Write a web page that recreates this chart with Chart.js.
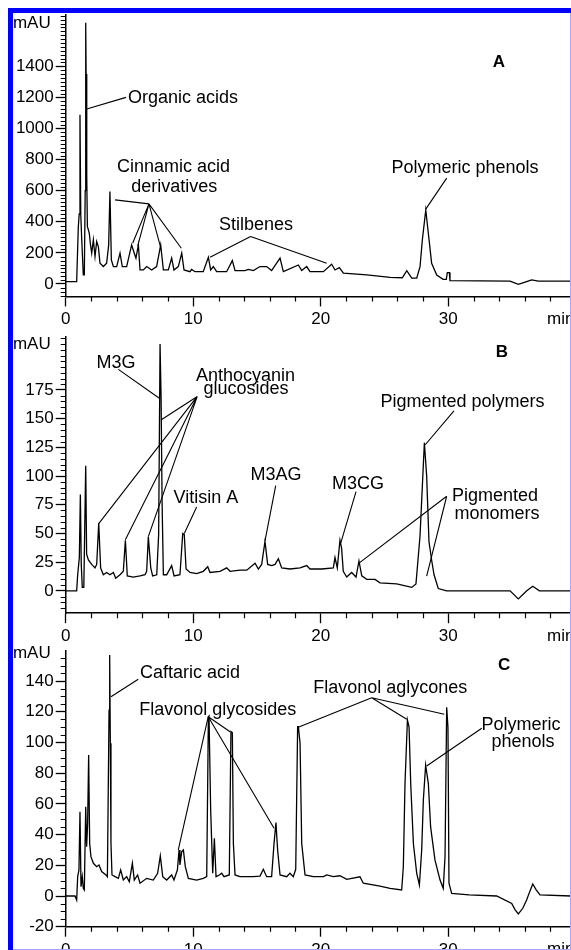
<!DOCTYPE html>
<html>
<head>
<meta charset="utf-8">
<script src="https://cdn.jsdelivr.net/npm/chart.js@4/dist/chart.umd.min.js"></script>
<style>
  html, body { margin: 0; padding: 0; background: #fff; overflow: hidden; }
  body { width: 571px; height: 950px; position: relative; }
  canvas { position: absolute; left: 0; }
  .frame { position: absolute; }
</style>
</head>
<body>
<canvas id="chartA" width="571" height="330" style="top:0"></canvas>
<canvas id="chartB" width="571" height="320" style="top:325px"></canvas>
<canvas id="chartC" width="571" height="324" style="top:636px"></canvas>
<div class="frame" style="left:8px;top:8px;width:563px;height:5px;background:#0000ff"></div>
<div class="frame" style="left:8px;top:8px;width:5px;height:942px;background:#0000ff"></div>
<div class="frame" style="left:570px;top:13px;width:1px;height:937px;background:#a8a8ff"></div>
<div class="frame" style="left:13px;top:949px;width:558px;height:1px;background:#a8a8ff"></div>
<script>
// retention time (min) and absorbance (mAU)
const timeA = [0, 0.86, 0.99, 1.06, 1.12, 1.18, 1.25, 1.38, 1.46, 1.53, 1.57, 1.6, 1.65, 1.7, 1.78, 1.85, 1.95, 2.04, 2.17, 2.3, 2.43, 2.56, 2.69, 2.95, 3.21, 3.37, 3.47, 3.58, 3.74, 4.0, 4.26, 4.44, 4.78, 5.17, 5.38, 5.51, 5.7, 5.83, 6.09, 6.35, 6.74, 7.13, 7.45, 7.66, 8.05, 8.31, 8.49, 8.83, 9.1, 9.28, 9.75, 9.88, 10.14, 10.79, 11.19, 11.37, 11.58, 11.84, 12.62, 13.07, 13.28, 14.06, 14.32, 14.72, 15.24, 15.76, 16.15, 16.81, 17.07, 18.25, 18.51, 18.9, 19.16, 20.21, 20.86, 21.12, 21.46, 21.78, 23.61, 25.44, 26.4, 26.75, 27.14, 27.53, 27.79, 27.97, 28.24, 28.5, 28.7, 29.1, 29.6, 29.85, 29.93, 30.09, 30.14, 34.85, 35.5, 36.15, 36.55, 37.07, 39.63];
const signalA = [15, 15, 369, 450, 1089, 450, 300, 58, 58, 600, 1680, 1350, 700, 369, 348, 326, 250, 198, 284, 176, 273, 240, 133, 112, 133, 250, 595, 155, 112, 112, 198, 112, 112, 251, 198, 166, 251, 90, 90, 112, 90, 112, 251, 90, 90, 166, 90, 112, 198, 90, 79, 94, 79, 79, 172, 90, 112, 79, 79, 150, 86, 86, 94, 86, 112, 112, 86, 166, 79, 122, 86, 112, 79, 79, 127, 90, 105, 69, 58, 43, 40, 86, 37, 37, 111, 283, 476, 283, 133, 58, 30, 30, 73, 73, 21, 18, -3, 15, 26, 18, 18];

const timeB = [0, 0.86, 0.94, 1.07, 1.15, 1.22, 1.3, 1.42, 1.57, 1.64, 1.78, 2.04, 2.3, 2.43, 2.59, 2.74, 2.95, 3.21, 3.47, 3.74, 3.92, 4.26, 4.52, 4.68, 4.83, 5.3, 5.83, 6.22, 6.35, 6.48, 6.67, 6.82, 7.14, 7.29, 7.4, 7.48, 7.56, 7.66, 7.92, 8.31, 8.5, 8.96, 9.18, 9.3, 9.44, 9.75, 10.27, 10.79, 11.14, 11.32, 12.1, 12.63, 12.89, 13.67, 14.2, 14.85, 15.11, 15.37, 15.63, 15.84, 16.16, 16.42, 16.68, 16.94, 17.59, 18.38, 18.9, 19.16, 20.08, 20.99, 21.12, 21.3, 21.51, 21.64, 21.77, 22.04, 22.43, 22.77, 23.0, 23.22, 23.61, 24.26, 24.65, 25.96, 27.14, 27.47, 27.79, 28.13, 28.31, 28.49, 28.71, 28.89, 29.22, 29.88, 32.49, 34.85, 35.5, 36.16, 36.63, 37.15, 39.63];
const signalB = [0, 0, 14, 29, 84, 23, 3, 3, 109, 32, 27, 23, 20, 23, 59, 20, 14, 16, 14, 16, 11, 14, 17, 44, 13, 12, 13, 14, 17, 47, 20, 13, 14, 49, 215, 169, 77, 14, 14, 22, 13, 14, 50, 49, 19, 16, 15, 17, 21, 16, 17, 20, 17, 18, 18, 24, 19, 23, 43, 23, 22, 23, 28, 20, 19, 20, 22, 19, 19, 20, 29, 20, 44, 37, 17, 12, 16, 12, 26, 13, 10, 10, 7, 6, 3, 6, 48, 129, 100, 43, 26, 14, 2, 0, 0, 0, -7, 0, 4, 0, 0];

const timeC = [0, 0.73, 0.86, 0.94, 1.04, 1.12, 1.2, 1.3, 1.38, 1.46, 1.57, 1.64, 1.72, 1.8, 1.88, 1.98, 2.17, 2.43, 2.61, 2.82, 3.16, 3.27, 3.4, 3.45, 3.5, 3.55, 3.63, 3.87, 4.13, 4.31, 4.52, 4.78, 4.99, 5.23, 5.38, 5.64, 5.83, 6.35, 6.87, 7.21, 7.42, 7.61, 7.92, 8.31, 8.49, 8.76, 8.89, 8.96, 9.1, 9.23, 9.38, 9.62, 10.27, 10.79, 11.06, 11.19, 11.24, 11.37, 11.53, 11.66, 11.79, 12.05, 12.23, 12.42, 12.83, 12.96, 13.07, 13.15, 13.28, 13.67, 14.72, 15.24, 15.5, 15.76, 16.15, 16.34, 16.49, 16.62, 16.81, 17.33, 17.59, 17.85, 18.04, 18.19, 18.25, 18.38, 18.51, 18.77, 19.42, 20.21, 20.47, 20.99, 21.51, 22.04, 23.08, 23.34, 24.65, 25.44, 26.35, 26.48, 26.61, 26.8, 26.93, 27.06, 27.27, 27.53, 27.74, 27.92, 28.05, 28.23, 28.44, 28.62, 28.96, 29.36, 29.61, 29.75, 29.88, 29.98, 30.06, 30.27, 31.64, 33.8, 34.98, 35.25, 35.5, 35.85, 36.15, 36.4, 36.63, 36.9, 37.2, 39.63];
const signalC = [0, 0, -2.6, 12.6, 16.9, 54.9, 6.1, 12.6, 5, 3.9, 58.2, 32.1, 47.3, 91.9, 34.3, 25.6, 21.3, 19.1, 20.2, 15.9, 13.7, 12.6, 121, 157, 99.5, 34.3, 13.7, 12.6, 11.5, 16.9, 10.4, 12.6, 9.3, 21.3, 10.4, 13.7, 8.3, 11.5, 10.4, 14.8, 26.1, 12.6, 10.4, 13.7, 10.4, 16.9, 30, 20.2, 28.9, 30, 19.1, 11.5, 10.4, 11.5, 12.6, 116.8, 117.3, 56, 14.8, 37.6, 12.6, 13.7, 14.8, 12.6, 13.7, 107.1, 106.4, 34.3, 13.7, 12.6, 12.6, 13, 17.4, 12.6, 12.6, 34.3, 47.8, 30, 13.7, 12.6, 14.8, 12.6, 17.4, 110.3, 110.3, 99.5, 34.3, 13.7, 12.6, 12.6, 13.7, 12.6, 13.2, 10.8, 12.5, 8.3, 6.5, 5, 3.9, 19, 73, 114.7, 110, 73, 34, 14.8, 7.2, 30, 62.5, 85.3, 73.4, 45, 23.5, 10.4, 5, 25.6, 123, 110, 8.3, 1.7, 0.7, 0, -4.8, -9, -11.7, -8, -2.6, 3, 7.8, 4, 0.7, 0];

// tick labels
const xTickLabels = [0, 10, 20, 30];
const yTickLabelsA = [0, 200, 400, 600, 800, 1000, 1200, 1400];
const yTickLabelsB = [0, 25, 50, 75, 100, 125, 150, 175];
const yTickLabelsC = [-20, 0, 20, 40, 60, 80, 100, 120, 140];

const FONT = '"Liberation Sans", Arial, Helvetica, sans-serif';

// peak labels: [text, time, mAU, align]
const notesA = [
  ['Organic acids', 4.89, 1196, 'left'],
  ['Cinnamic acid', 8.45, 754, 'center'],
  ['derivatives', 8.51, 626, 'center'],
  ['Stilbenes', 14.92, 379, 'center'],
  ['Polymeric phenols', 31.32, 746, 'center'],
];
const pointersA = [
  [1.65, 1126, 4.73, 1200],
  [6.53, 515, 3.87, 541], [6.53, 515, 5.25, 262], [6.53, 515, 5.65, 245],
  [6.53, 515, 7.43, 240], [6.53, 515, 9.07, 230],
  [14.5, 305, 11.32, 172], [14.5, 305, 20.47, 133],
  [29.88, 681, 28.24, 481],
];
const notesB = [
  ['M3G', 3.95, 198.5, 'center'],
  ['Anthocyanin', 14.1, 187, 'center'],
  ['glucosides', 14.14, 175.5, 'center'],
  ['Vitisin A', 11.0, 80.5, 'center'],
  ['M3AG', 16.49, 100.6, 'center'],
  ['M3CG', 22.93, 93.4, 'center'],
  ['Pigmented polymers', 31.12, 164.1, 'center'],
  ['Pigmented', 33.67, 82.6, 'center'],
  ['monomers', 33.83, 67.1, 'center'],
];
const pointersB = [
  [4.13, 193, 7.4, 167.4],
  [10.32, 169.4, 7.47, 148.8], [10.32, 169.4, 2.59, 58.6],
  [10.32, 169.4, 4.68, 44.4], [10.32, 169.4, 6.48, 47.2],
  [10.27, 73, 9.3, 50],
  [16.47, 91.6, 15.63, 43.5],
  [22.77, 86.4, 21.57, 41.5],
  [30.45, 156.8, 28.2, 127.3],
  [29.88, 82.4, 23.03, 24.3], [29.88, 82.4, 28.31, 12.9],
];
const notesC = [
  ['Caftaric acid', 5.83, 145.1, 'left'],
  ['Flavonol glycosides', 5.77, 121.2, 'left'],
  ['Flavonol aglycones', 25.45, 135.3, 'center'],
  ['Polymeric', 35.71, 111.4, 'center'],
  ['phenols', 35.87, 100.5, 'center'],
];
const pointersC = [
  [5.69, 141.2, 3.55, 129.8],
  [11.18, 116.8, 8.83, 30], [11.18, 116.8, 12.89, 107], [11.18, 116.8, 16.34, 44.1],
  [24.0, 129.2, 18.24, 109.9], [24.0, 129.2, 26.75, 115.1], [24.0, 129.2, 29.69, 118.4],
  [32.63, 109.3, 28.31, 84.7],
];

const notesPlugin = {
  id: 'notes',
  afterDraw(chart, args, opts) {
    const ctx = chart.ctx;
    const area = chart.chartArea;
    const xs = chart.scales.x;
    const ys = chart.scales.y;
    ctx.save();
    ctx.strokeStyle = '#000';
    ctx.fillStyle = '#000';

    // minor ticks
    ctx.lineWidth = 1.2;
    ctx.beginPath();
    for (let t = 2; t < xs.max; t += 2) {
      if (t % 10 === 0) continue;
      const px = Math.round(xs.getPixelForValue(t)) + 0.5;
      ctx.moveTo(px, area.bottom);
      ctx.lineTo(px, area.bottom + 5);
    }
    for (let v = opts.minorFrom; v < ys.max; v += opts.minorStep) {
      if (opts.majors.includes(v)) continue;
      const py = Math.round(ys.getPixelForValue(v)) + 0.5;
      ctx.moveTo(area.left - 5, py);
      ctx.lineTo(area.left, py);
    }
    ctx.stroke();

    // pointer lines
    ctx.lineWidth = 1.1;
    ctx.beginPath();
    opts.pointers.forEach(([t1, v1, t2, v2]) => {
      ctx.moveTo(xs.getPixelForValue(t1), ys.getPixelForValue(v1));
      ctx.lineTo(xs.getPixelForValue(t2), ys.getPixelForValue(v2));
    });
    ctx.stroke();

    // labels
    ctx.textBaseline = 'middle';
    ctx.font = '18px ' + FONT;
    opts.notes.forEach(([text, t, v, align]) => {
      ctx.textAlign = align;
      ctx.fillText(text, xs.getPixelForValue(t), ys.getPixelForValue(v));
    });

    // panel letter
    ctx.font = 'bold 17px ' + FONT;
    ctx.textAlign = 'center';
    ctx.fillText(opts.letter[0], xs.getPixelForValue(opts.letter[1]), ys.getPixelForValue(opts.letter[2]));

    // units
    ctx.font = '17px ' + FONT;
    ctx.textAlign = 'right';
    ctx.fillText('mAU', area.left - 15, ys.getPixelForValue(opts.unitAt));
    ctx.textAlign = 'left';
    ctx.fillText('min', xs.getPixelForValue(37.75), area.bottom + 23);
    ctx.restore();
  }
};

function createChart(id, time, signal, cfg) {
  const canvas = document.getElementById(id);
  return new Chart(canvas, {
    type: 'line',
    data: {
      datasets: [{
        data: time.map((t, i) => ({ x: t, y: signal[i] })),
        borderColor: '#000',
        borderWidth: 1.3,
        pointRadius: 0,
        tension: 0,
        fill: false,
      }],
    },
    options: {
      responsive: false,
      animation: false,
      events: [],
      layout: { padding: { top: cfg.padTop, left: 0, right: 0, bottom: 0 } },
      plugins: {
        legend: { display: false },
        tooltip: { enabled: false },
        notes: {
          notes: cfg.notes,
          pointers: cfg.pointers,
          letter: cfg.letter,
          unitAt: cfg.unitAt,
          majors: cfg.yTicks,
          minorFrom: cfg.minorFrom,
          minorStep: cfg.minorStep,
        },
      },
      scales: {
        x: {
          type: 'linear',
          min: 0,
          max: 39.63,
          afterBuildTicks: (s) => { s.ticks = xTickLabels.map((v) => ({ value: v })); },
          afterFit: (s) => { s.height = cfg.xHeight; },
          border: { display: true, color: '#000', width: 1.5 },
          grid: { drawOnChartArea: false, drawTicks: true, tickLength: 10, tickColor: '#000', tickWidth: 1.3 },
          ticks: { color: '#000', font: { family: FONT, size: 17 }, padding: 3, maxRotation: 0, autoSkip: false, callback: (v) => String(v) },
        },
        y: {
          type: 'linear',
          min: cfg.yMin,
          max: cfg.yMax,
          afterBuildTicks: (s) => { s.ticks = cfg.yTicks.map((v) => ({ value: v })); },
          afterFit: (s) => { s.width = 65.7; },
          border: { display: true, color: '#000', width: 1.5 },
          grid: { drawOnChartArea: false, drawTicks: true, tickLength: 10, tickColor: '#000', tickWidth: 1.3 },
          ticks: { color: '#000', font: { family: FONT, size: 17 }, padding: 2, autoSkip: false, callback: (v) => String(v) },
        },
      },
    },
    plugins: [notesPlugin],
  });
}

createChart('chartA', timeA, signalA, {
  padTop: 15, xHeight: 33.6, yMin: -80, yMax: 1730, yTicks: yTickLabelsA,
  minorFrom: -75, minorStep: 25, notes: notesA, pointers: pointersA,
  letter: ['A', 33.98, 1423], unitAt: 1678,
});
createChart('chartB', timeB, signalB, {
  padTop: 8, xHeight: 31.8, yMin: -19.5, yMax: 221, yTicks: yTickLabelsB,
  minorFrom: -15, minorStep: 5, notes: notesB, pointers: pointersB,
  letter: ['B', 34.2, 207.9], unitAt: 215,
});
createChart('chartC', timeC, signalC, {
  padTop: 14.4, xHeight: 33.3, yMin: -20, yMax: 160, yTicks: yTickLabelsC,
  minorFrom: -15, minorStep: 5, notes: notesC, pointers: pointersC,
  letter: ['C', 34.38, 150.5], unitAt: 158.3,
});
</script>
</body>
</html>
